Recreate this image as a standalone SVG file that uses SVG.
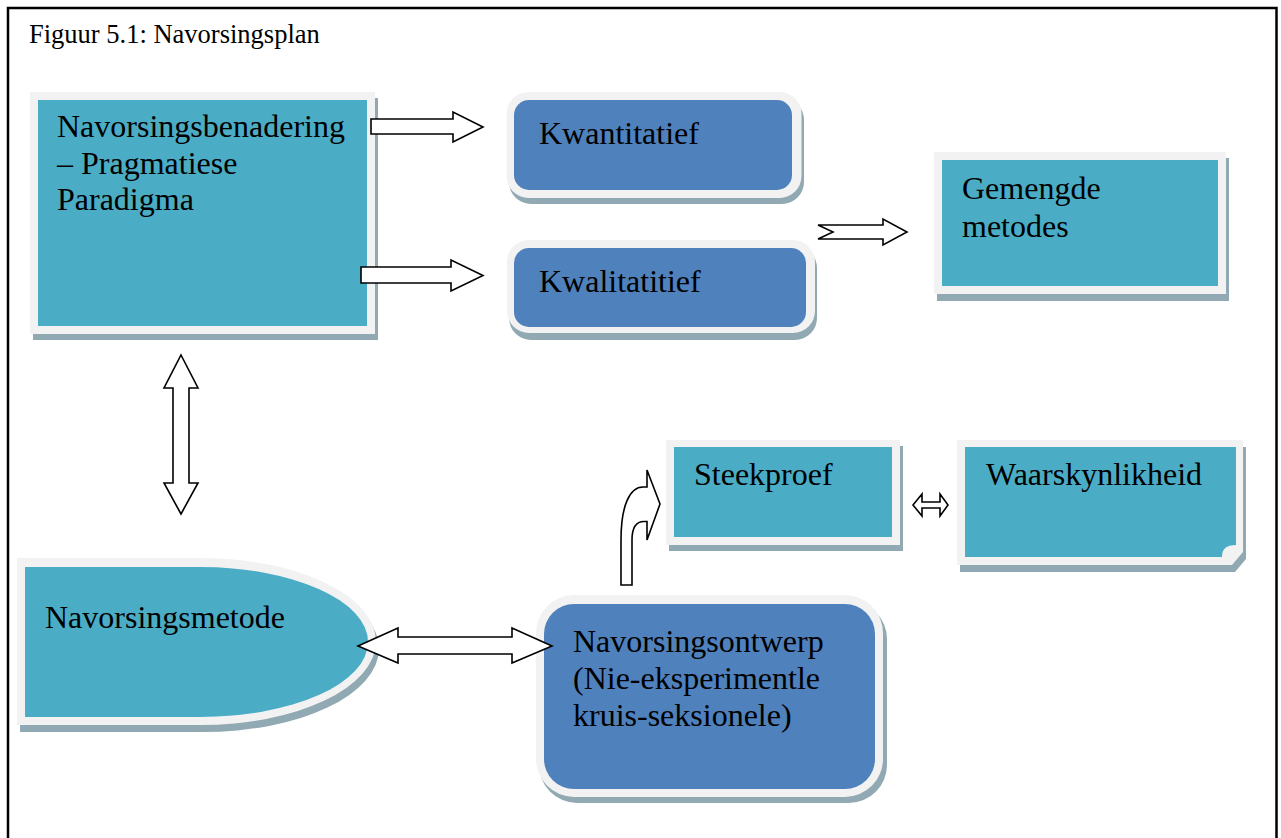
<svg xmlns="http://www.w3.org/2000/svg" width="1281" height="838" viewBox="0 0 1281 838">
<style>
text{font-family:"Liberation Serif","Times New Roman",serif;fill:#000}
.t{font-size:32px}
.title{font-size:26.5px}
.frame{fill:#f2f2f2}
.shadow{fill:#91a9b3}
.teal{fill:#4bacc6}
.blue{fill:#4f81bd}
.arrow{fill:#fff;stroke:#000;stroke-width:1.6;stroke-linejoin:miter}
</style>
<rect x="0" y="0" width="1281" height="838" fill="#fff"/>
<rect x="8" y="8" width="1268.5" height="850" fill="none" stroke="#000" stroke-width="2.5"/>
<text class="title" x="29" y="43">Figuur 5.1: Navorsingsplan</text>

<g id="node-benadering">
<rect class="shadow" x="33" y="98" width="345" height="242"/>
<rect class="frame" x="30" y="92" width="345" height="242"/>
<rect class="teal" x="38" y="100" width="329" height="226"/>
<text class="t" x="57" y="137">Navorsingsbenadering</text>
<text class="t" x="57" y="173.5">– Pragmatiese</text>
<text class="t" x="57" y="210">Paradigma</text>
</g>

<g id="node-kwantitatief">
<rect class="shadow" x="509" y="98" width="295" height="106" rx="22"/>
<rect class="frame" x="506.5" y="92" width="295" height="106" rx="22"/>
<rect class="blue" x="514" y="100" width="278" height="90" rx="15"/>
<text class="t" x="539" y="144">Kwantitatief</text>
</g>

<g id="node-kwalitatitief">
<rect class="shadow" x="509" y="246" width="308" height="94" rx="22"/>
<rect class="frame" x="507" y="240" width="308" height="93" rx="22"/>
<rect class="blue" x="514" y="248" width="292" height="79" rx="15"/>
<text class="t" x="539" y="292">Kwalitatitief</text>
</g>

<g id="node-gemengde">
<rect class="shadow" x="937" y="158" width="292" height="143"/>
<rect class="frame" x="934" y="152" width="292" height="142"/>
<rect class="teal" x="942" y="160" width="276" height="126"/>
<text class="t" x="962" y="199">Gemengde</text>
<text class="t" x="962" y="237">metodes</text>
</g>

<g id="node-navorsingsmetode">
<path class="shadow" d="M20,565 L203,565 A176,83.5 0 0 1 379,648.5 A176,83.5 0 0 1 203,732 L20,732 Z"/>
<path class="frame" d="M17,558 L200,558 A176,83.5 0 0 1 376,641.5 A176,83.5 0 0 1 200,725 L17,725 Z"/>
<path class="teal" d="M25,567 L200,567 A168,75 0 0 1 368,642 A168,75 0 0 1 200,717 L25,717 Z"/>
<text class="t" x="45" y="628">Navorsingsmetode</text>
</g>

<g id="node-ontwerp">
<rect class="shadow" x="539" y="601" width="348" height="202" rx="38"/>
<rect class="frame" x="536" y="595" width="347" height="202" rx="38"/>
<rect class="blue" x="544" y="604" width="331" height="185" rx="30"/>
<text class="t" x="573" y="652">Navorsingsontwerp</text>
<text class="t" x="573" y="689">(Nie-eksperimentle</text>
<text class="t" x="573" y="726">kruis-seksionele)</text>
</g>

<g id="node-steekproef">
<rect class="shadow" x="669" y="446" width="234" height="105"/>
<rect class="frame" x="666" y="440" width="234" height="105"/>
<rect class="teal" x="674" y="447" width="218" height="90"/>
<text class="t" x="694" y="485">Steekproef</text>
</g>

<g id="node-waarskynlikheid">
<path class="shadow" d="M960,447 L1246,447 L1246,559 L1235,572 L960,572 Z"/>
<path class="frame" d="M957,440 L1243,440 L1243,552 L1232,565 L957,565 Z"/>
<path class="teal" d="M965,447 L1236,447 L1236,545 C1226,545 1222,549 1222,557 L965,557 Z"/>
<text class="t" x="986" y="485">Waarskynlikheid</text>
</g>

<g id="connectors">
<path class="arrow" d="M371,119 L453,119 L453,112 L483,127 L453,142 L453,134 L371,134 Z"/>
<path class="arrow" d="M361,267 L451,267 L451,260 L483,275.5 L451,291 L451,283 L361,283 Z"/>
<path class="arrow" d="M818,225 L883,225 L883,219 L907,232 L883,245 L883,239 L818,239 L833,232 Z"/>
<path class="arrow" d="M181,355 L198,388 L189,388 L189,483 L198,483 L181,514 L164,483 L173,483 L173,388 L164,388 Z"/>
<path class="arrow" d="M358,646 L398,628 L398,637 L512,637 L512,628 L552,646 L512,663 L512,654 L398,654 L398,663 Z"/>
<path class="arrow" d="M621,585 L632,585 L632,540 C632,528 636,521.5 644,521.5 L647,521.5 L647,540 L660,504 L647,470 L647,487 L643,487 C630,487 621,505 621,540 Z"/>
<path class="arrow" d="M913,505 L922,494 L922,502 L940,502 L940,494 L948,505 L940,516 L940,508 L922,508 L922,516 Z"/>
</g>
</svg>
